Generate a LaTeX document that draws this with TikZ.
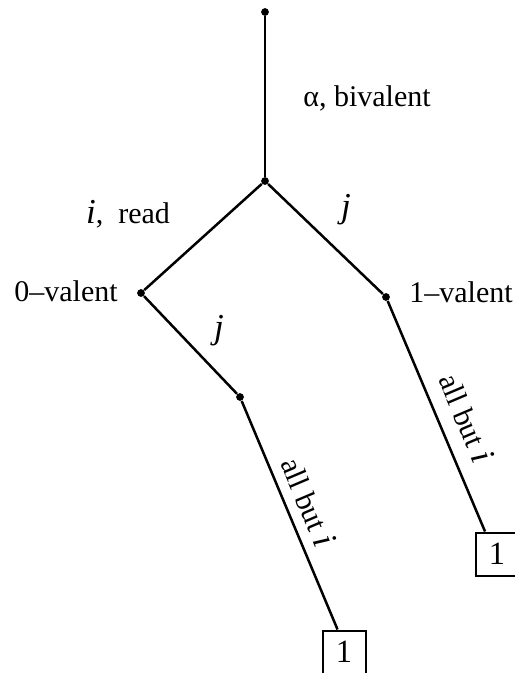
\documentclass[tikz,border=0pt]{standalone}
\usepackage{fontspec}
\setmainfont{Liberation Serif}
\usetikzlibrary{positioning}

\begin{document}
\begin{tikzpicture}[
  x=0.4pt, y=-0.4pt,
  dot/.style={circle, fill, inner sep=0pt, minimum size=3.1pt},
  branch/.style={line width=1pt},
  lbl/.style={font=\fontsize{12}{14}\selectfont, inner sep=1pt},
  proc/.style={font=\fontsize{14}{16}\selectfont\itshape, inner sep=1pt},
  decided/.style={draw, line width=0.8pt, minimum size=17.2pt, inner sep=0pt, font=\fontsize{13}{15}\selectfont}
]
  \useasboundingbox (0,0) rectangle (514,673);

  % Execution tree
  \node (root) [dot] at (265, 12) {};
  \node (alpha) [dot] at (265, 181) {};
  \node (zero) [dot] at (141, 293) {};
  \node (one) [dot] at (386, 297) {};
  \node (step) [dot] at (240, 397) {};
  \node (decA) [decided] at (344, 652) {1};
  \node (decB) [decided] at (497, 554) {1};

  % Branches
  \draw[branch] (root) -- (alpha);
  \draw[branch] (alpha) -- (zero);
  \draw[branch] (alpha) -- (one);
  \draw[branch] (zero) -- (step);
  \draw[branch] (step) -- (decA.106);
  \draw[branch] (one) -- (decB.118);

  % Labels
  \node (lalpha) [lbl] at (367, 98) {α, bivalent};
  \node (lread) [lbl] at (128, 214) {{\fontsize{14}{16}\selectfont\itshape i}, \ read};
  \node (lj1) [proc] at (346, 210) {j};
  \node (lzero) [lbl] at (66, 291) {0–valent};
  \node (lone) [lbl] at (461, 292) {1–valent};
  \node (lj2) [proc] at (219, 331) {j};
  \node (lbutA) [lbl, rotate=-67] at (309, 502) {all but {\fontsize{14}{16}\selectfont\itshape i}};
  \node (lbutB) [lbl, rotate=-67] at (467, 418) {all but {\fontsize{14}{16}\selectfont\itshape i}};

\end{tikzpicture}
\end{document}
